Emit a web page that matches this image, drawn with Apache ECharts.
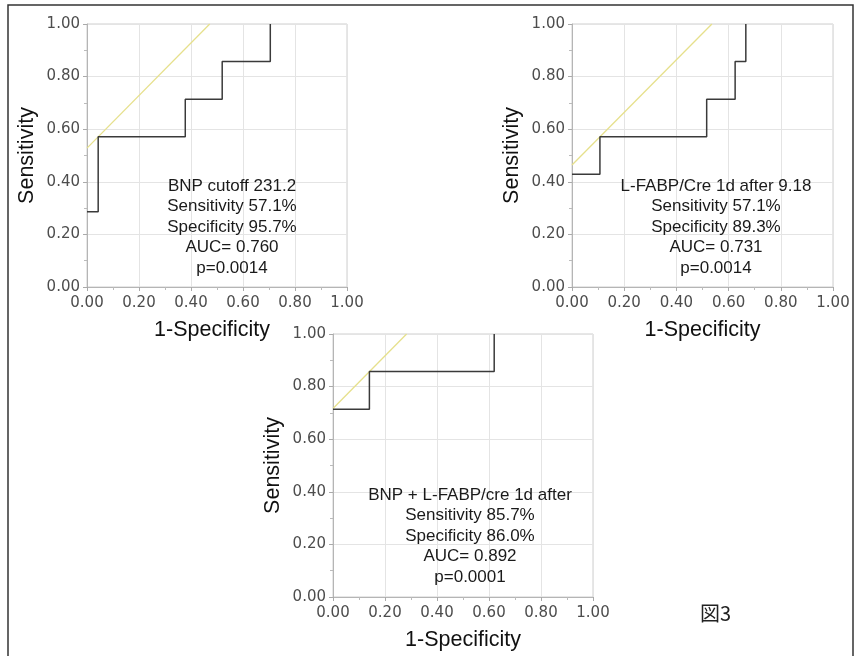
<!DOCTYPE html>
<html>
<head>
<meta charset="utf-8">
<script src="https://cdn.jsdelivr.net/npm/echarts@6/dist/echarts.min.js"></script>
<style>
  html, body { margin: 0; padding: 0; background: #fff; }
  #main { width: 860px; height: 656px; }
</style>
</head>
<body>
<div id="main"></div>
<script>
// ROC curves (1-specificity, sensitivity)
const bnpFpr = [0, 0.043, 0.043, 0.378, 0.378, 0.52, 0.52, 0.705, 0.705];
const bnpTpr = [0.286, 0.286, 0.571, 0.571, 0.714, 0.714, 0.857, 0.857, 1];
const bnpTangentFpr = [0, 0.472];
const bnpTangentTpr = [0.528, 1];

const fabpFpr = [0, 0.107, 0.107, 0.516, 0.516, 0.625, 0.625, 0.666, 0.666];
const fabpTpr = [0.429, 0.429, 0.571, 0.571, 0.714, 0.714, 0.857, 0.857, 1];
const fabpTangentFpr = [0, 0.536];
const fabpTangentTpr = [0.464, 1];

const combFpr = [0, 0.14, 0.14, 0.62, 0.62];
const combTpr = [0.714, 0.714, 0.857, 0.857, 1];
const combTangentFpr = [0, 0.283];
const combTangentTpr = [0.717, 1];

const bnpNotes = ["BNP cutoff 231.2", "Sensitivity 57.1%", "Specificity 95.7%", "AUC= 0.760", "p=0.0014"];
const fabpNotes = ["L-FABP/Cre 1d after 9.18", "Sensitivity 57.1%", "Specificity 89.3%", "AUC= 0.731", "p=0.0014"];
const combNotes = ["BNP + L-FABP/cre 1d after", "Sensitivity 85.7%", "Specificity 86.0%", "AUC= 0.892", "p=0.0001"];

const xTitle = "1-Specificity";
const yTitle = "Sensitivity";
const figLabel = "図3";

function pairs(xs, ys) {
  return xs.map((x, i) => [x, ys[i]]);
}

const chart = echarts.init(document.getElementById("main"));

const grids = [
  { left: 87, top: 24, width: 260, height: 263 },
  { left: 572, top: 24, width: 261, height: 263 },
  { left: 333, top: 334, width: 260, height: 263 },
];

function makeAxis(idx, isX) {
  return {
    type: "value",
    gridIndex: idx,
    min: 0,
    max: 1,
    interval: 0.2,
    name: isX ? xTitle : yTitle,
    nameLocation: "middle",
    nameGap: isX ? 32 : 49,
    nameTextStyle: {
      fontFamily: "Liberation Sans",
      fontSize: 21.5,
      color: "#111",
      padding: isX && idx == 0 ? [0, 10, 0, 0] : 0,
    },
    axisLine: { show: true, onZero: false, lineStyle: { color: "#b5b5b5", width: 1 } },
    axisTick: { show: true, length: 4, lineStyle: { color: "#aaa" } },
    minorTick: { show: true, splitNumber: 2, length: 3, lineStyle: { color: "#bbb" } },
    splitLine: { show: true, lineStyle: { color: "#e4e4e4", width: 1 } },
    axisLabel: {
      margin: isX ? 9 : 7,
      fontFamily: "DejaVu Sans",
      fontSize: 15,
      color: "#4d4d4d",
      showMinLabel: true,
      showMaxLabel: true,
      formatter: (v) => v.toFixed(2),
    },
  };
}

const curves = [
  [bnpFpr, bnpTpr, bnpTangentFpr, bnpTangentTpr],
  [fabpFpr, fabpTpr, fabpTangentFpr, fabpTangentTpr],
  [combFpr, combTpr, combTangentFpr, combTangentTpr],
];

const series = [];
curves.forEach((c, i) => {
  series.push({
    type: "line",
    xAxisIndex: i,
    yAxisIndex: i,
    data: pairs(c[2], c[3]),
    showSymbol: false,
    silent: true,
    lineStyle: { color: "#e6e08c", width: 1.3 },
    z: 3,
  });
  series.push({
    type: "line",
    xAxisIndex: i,
    yAxisIndex: i,
    data: pairs(c[0], c[1]),
    showSymbol: false,
    silent: true,
    lineStyle: { color: "#3a3a3a", width: 1.5 },
    z: 4,
  });
});

// note blocks, centred under each curve
const notePos = [
  { x: 232, y: 176, lines: bnpNotes },
  { x: 716, y: 176, lines: fabpNotes },
  { x: 470, y: 485, lines: combNotes },
];

const graphic = [
  {
    type: "rect",
    shape: { x: 8, y: 5, width: 845, height: 700 },
    style: { fill: "none", stroke: "#333", lineWidth: 1.5 },
    silent: true,
  },
  {
    type: "text",
    left: 700,
    top: 603,
    style: {
      text: figLabel,
      fontFamily: "Noto Sans CJK JP",
      fontSize: 20,
      fill: "#222",
    },
  },
];
notePos.forEach((n) => {
  graphic.push({
    type: "text",
    x: n.x,
    y: n.y,
    style: {
      text: n.lines.join("\n"),
      align: "center",
      verticalAlign: "top",
      fontFamily: "Liberation Sans",
      fontSize: 17,
      lineHeight: 20.5,
      fill: "#1a1a1a",
    },
    z: 10,
  });
});

const option = {
  backgroundColor: "#fff",
  animation: false,
  grid: grids.map((g) => Object.assign({ show: true, borderColor: "#cfcfcf", borderWidth: 1 }, g)),
  xAxis: [0, 1, 2].map((i) => makeAxis(i, true)),
  yAxis: [0, 1, 2].map((i) => makeAxis(i, false)),
  series: series,
  graphic: graphic,
};

option && chart.setOption(option);
</script>
</body>
</html>
